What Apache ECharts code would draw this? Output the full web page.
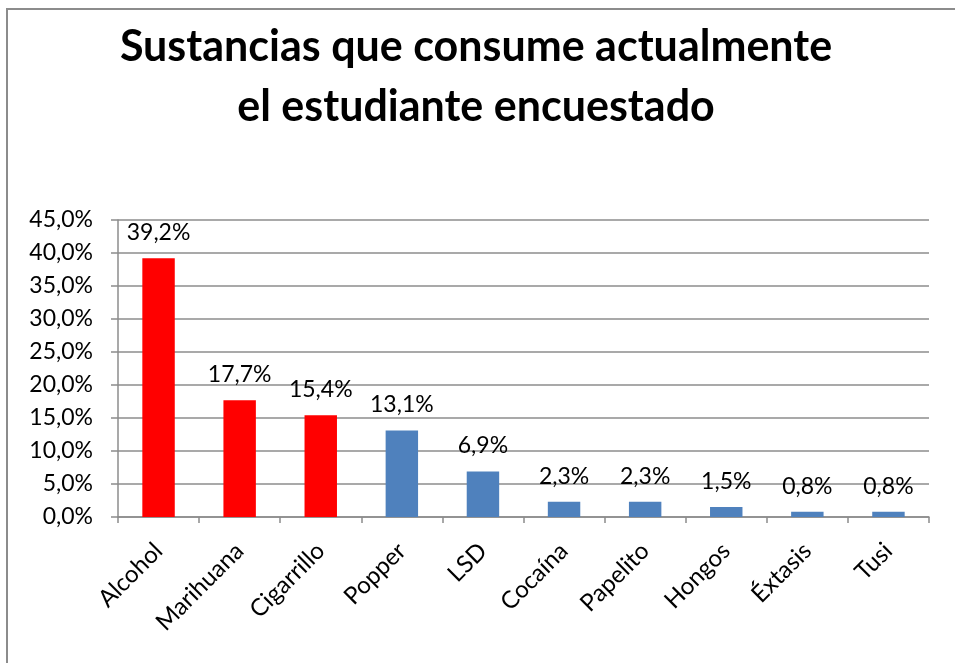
<!DOCTYPE html>
<html>
<head>
    <meta charset="UTF-8">
    <title>Sustancias</title>
    <script src="https://cdn.jsdelivr.net/npm/echarts@6/dist/echarts.min.js"></script>
    <style>
        html, body { margin: 0; padding: 0; background: #fff; }
        #chart { width: 955px; height: 663px; }
    </style>
</head>
<body>
<div id="chart"></div>
<script>
    var categories = ['Alcohol', 'Marihuana', 'Cigarrillo', 'Popper', 'LSD', 'Cocaína', 'Papelito', 'Hongos', 'Éxtasis', 'Tusi'];
    var values = [39.2, 17.7, 15.4, 13.1, 6.9, 2.3, 2.3, 1.5, 0.8, 0.8];
    var yTicks = [0, 5, 10, 15, 20, 25, 30, 35, 40, 45];

    function pct(v) {
        return v.toFixed(1).replace('.', ',') + '%';
    }

    var font = 'Lato';
    var myChart = echarts.init(document.getElementById('chart'));
    var option = {
        animation: false,
        backgroundColor: '#fff',
        title: {
            text: 'Sustancias que consume actualmente\nel estudiante encuestado',
            left: 471,
            top: 12,
            textAlign: 'center',
            textStyle: {
                fontFamily: font,
                fontWeight: 'bold',
                fontSize: 43,
                lineHeight: 60,
                color: '#000'
            }
        },
        graphic: [{
            type: 'rect',
            shape: { x: 7, y: 9, width: 1000, height: 700 },
            style: { fill: 'none', stroke: '#8c8c8c', lineWidth: 2 },
            silent: true
        }],
        grid: { left: 118, right: 26, top: 220, bottom: 146 },
        xAxis: {
            type: 'category',
            data: categories,
            axisLine: { lineStyle: { color: '#8c8c8c', width: 1.5 } },
            axisTick: { show: true, length: 6, lineStyle: { color: '#8c8c8c', width: 1.5 } },
            axisLabel: {
                rotate: 45,
                margin: 30,
                interval: 0,
                fontFamily: font,
                fontSize: 24,
                color: '#000'
            }
        },
        yAxis: {
            type: 'value',
            min: yTicks[0],
            max: yTicks[yTicks.length - 1],
            interval: 5,
            axisLine: { show: true, lineStyle: { color: '#8c8c8c', width: 1.5 } },
            axisTick: { show: true, length: 7, lineStyle: { color: '#8c8c8c', width: 1.5 } },
            splitLine: { lineStyle: { color: '#8c8c8c', width: 1.5 } },
            axisLabel: {
                margin: 25,
                fontFamily: font,
                fontSize: 23,
                color: '#000',
                formatter: pct
            }
        },
        series: [{
            type: 'bar',
            data: values,
            barWidth: '40%',
            itemStyle: {
                color: function (p) { return p.dataIndex < 3 ? '#ff0000' : '#4f81bd'; }
            },
            label: {
                show: true,
                position: 'top',
                distance: 14,
                fontFamily: font,
                fontSize: 23,
                color: '#000',
                formatter: function (p) { return pct(p.value); }
            }
        }]
    };
    myChart.setOption(option);
</script>
</body>
</html>
